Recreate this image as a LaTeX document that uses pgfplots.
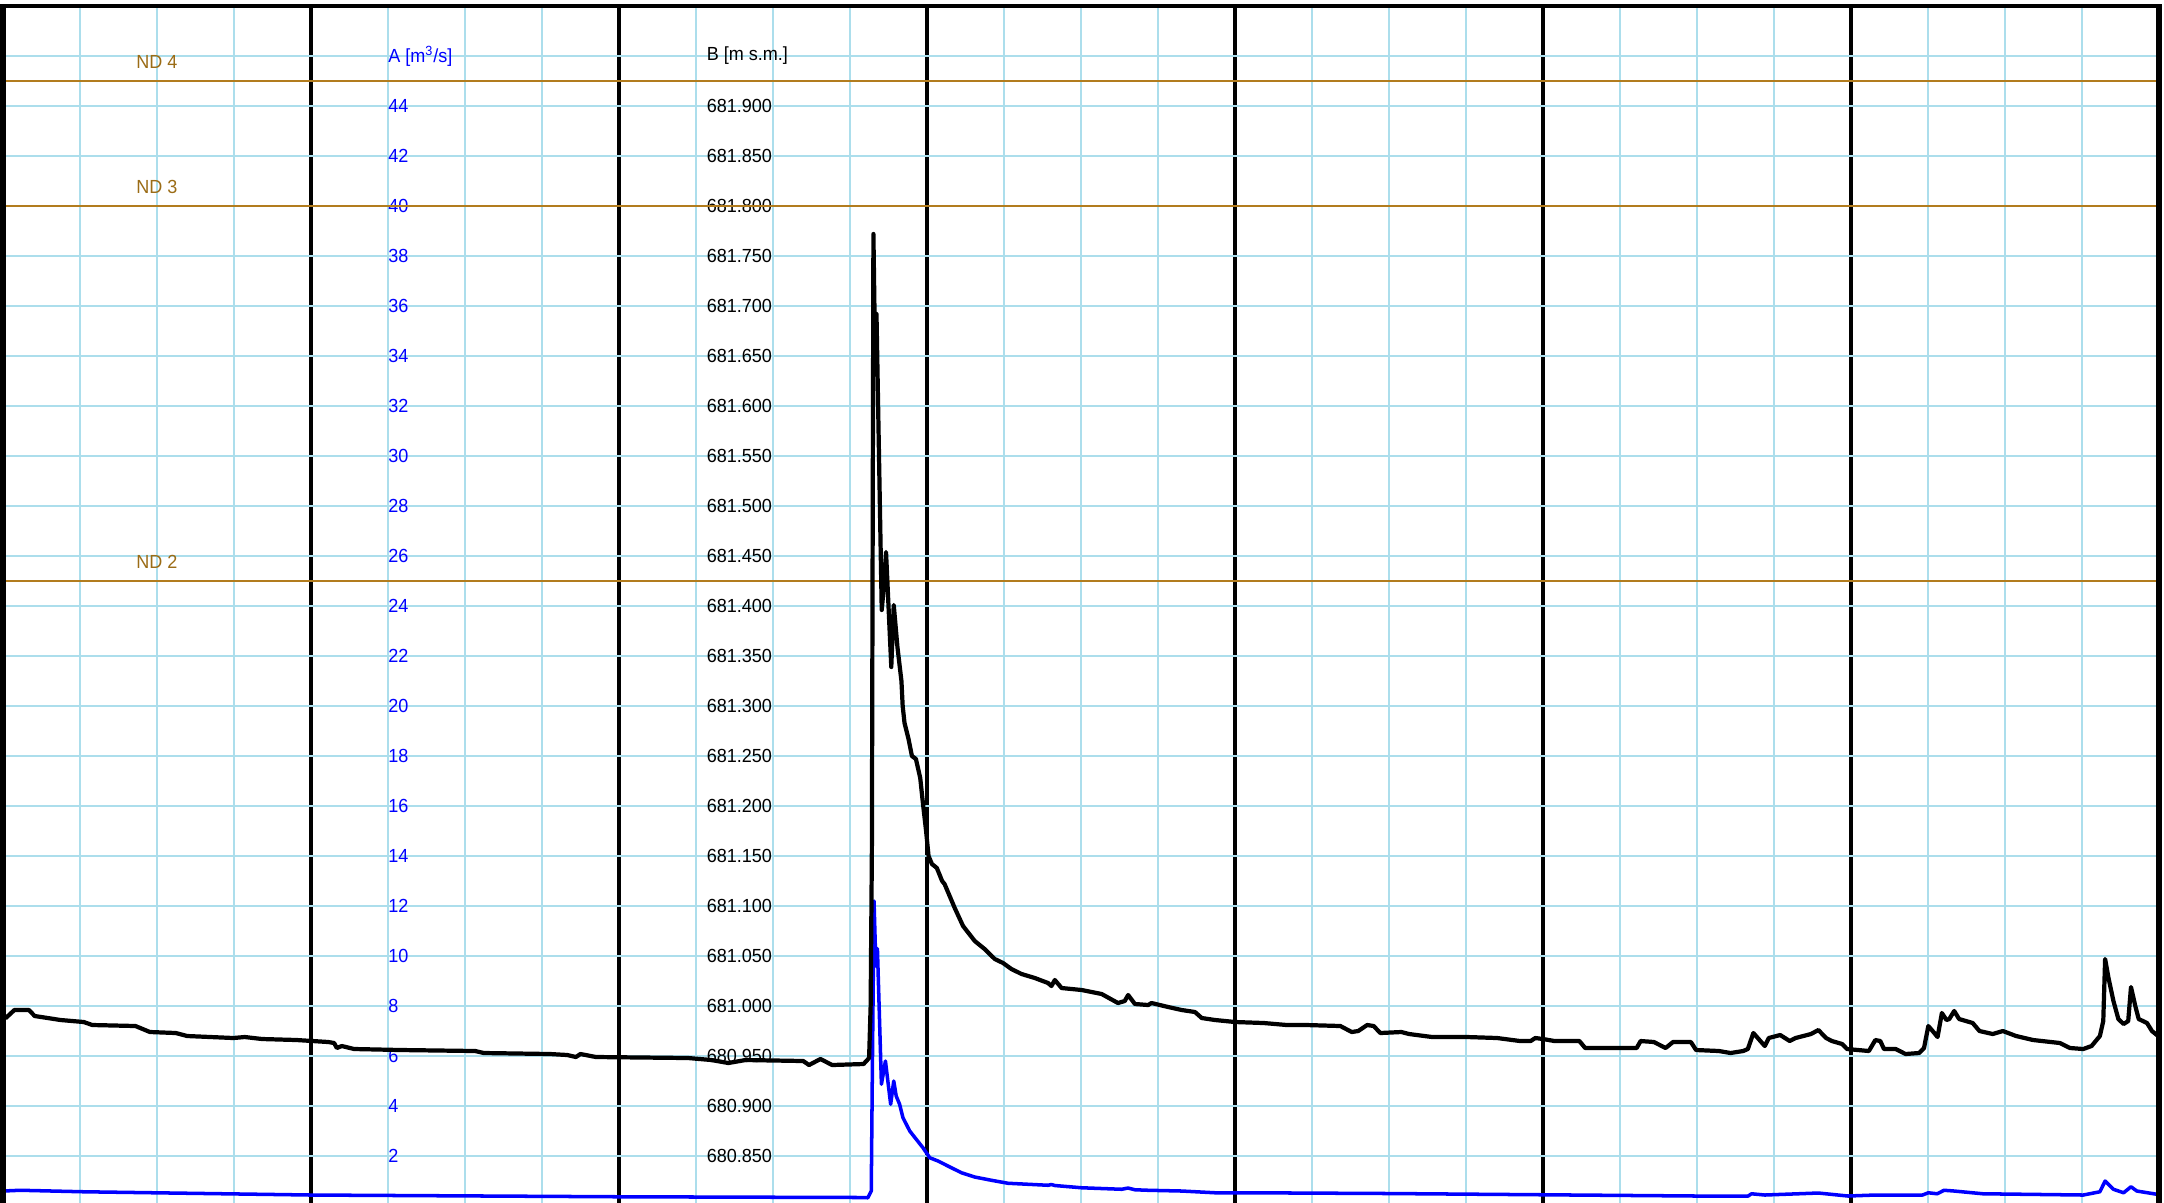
\documentclass[border=0pt]{standalone}
\usepackage{fontspec}
\setmainfont{Liberation Sans}[FakeStretch=0.95]
\usepackage{pgfplots}
\pgfplotsset{compat=1.18}
\definecolor{gridblue}{RGB}{172,222,236}
\definecolor{ndbrown}{RGB}{178,124,30}
\definecolor{ndtext}{RGB}{155,108,22}
\definecolor{qblue}{RGB}{0,0,255}
\newcommand{\lbl}{\fontsize{10.8}{13}\selectfont}

\begin{document}
\begin{tikzpicture}
% axis 1: discharge A [m3/s], carries the grid and the labels
\begin{axis}[
    name=ax,
    scale only axis,
    width=43.12cm, height=24cm,
    xmin=0, xmax=7, ymin=0, ymax=48,
    xtick={0,...,7},
    minor xtick={0.25,0.5,...,7},
    ytick={2,4,...,46},
    xticklabels={}, yticklabels={},
    major tick length=0pt, minor tick length=0pt,
    axis line style={draw=none},
    grid=both,
    minor x grid style={gridblue, line width=0.6pt},
    major x grid style={black, line width=2.1pt},
    major y grid style={gridblue, line width=1.1pt},
]
% A series
\addplot[qblue, line width=2pt, line join=round] coordinates {
(0,0.6) (0.056,0.63) (0.262,0.57) (1,0.44) (2,0.37) (2.794,0.34) (2.808,0.33)
(2.819,0.6) (2.823,6.0) (2.828,12.2) (2.834,9.6) (2.839,10.3) (2.852,4.87)
(2.865,5.8) (2.882,4.07) (2.892,5.0) (2.900,4.4) (2.911,4.07) (2.922,3.53)
(2.944,3.0) (2.965,2.67) (2.987,2.33) (3.009,1.93) (3.036,1.8) (3.068,1.6)
(3.112,1.33) (3.155,1.16) (3.209,1.03) (3.263,0.91) (3.393,0.83) (3.404,0.86)
(3.415,0.82) (3.502,0.73) (3.632,0.67) (3.653,0.72) (3.675,0.65) (3.718,0.63)
(3.827,0.6) (3.935,0.53) (4.043,0.53) (4.5,0.5) (5.0,0.45) (5.5,0.4)
(5.666,0.4) (5.677,0.49) (5.72,0.44) (5.894,0.52) (5.99,0.4) (6.079,0.44)
(6.232,0.44) (6.251,0.53) (6.28,0.49) (6.302,0.63) (6.335,0.6) (6.428,0.49)
(6.754,0.44) (6.808,0.57) (6.825,1.0) (6.852,0.67) (6.885,0.53) (6.909,0.77)
(6.928,0.6) (6.993,0.47) (7.0,0.47)
};

% scale labels inside the plot
\pgfplotsinvokeforeach{2,4,...,44}{
  \node[anchor=west, inner sep=0pt, text=qblue, font=\lbl] at (axis cs:1.25,#1) {#1};
  \node[anchor=west, inner sep=0pt, font=\lbl] at (axis cs:2.284,#1)
    {\pgfmathparse{680.8+0.025*#1}\pgfmathprintnumber[fixed,fixed zerofill,precision=3,assume math mode=true]{\pgfmathresult}};
}
\node[anchor=west, inner sep=0pt, text=qblue, font=\lbl] at (axis cs:1.25,46) {A [m\textsuperscript{3}/s]};
\node[anchor=west, inner sep=0pt, font=\lbl] at (axis cs:2.284,46) {B [m s.m.]};

\node[text=ndtext, font=\lbl, inner sep=0pt] at (axis cs:0.5,45.77) {ND 4};
\node[text=ndtext, font=\lbl, inner sep=0pt] at (axis cs:0.5,40.77) {ND 3};
\node[text=ndtext, font=\lbl, inner sep=0pt] at (axis cs:0.5,25.77) {ND 2};
\end{axis}

% axis 2: level B [m s.m.]
\begin{axis}[
    scale only axis,
    width=43.12cm, height=24cm,
    xmin=0, xmax=7, ymin=680.8, ymax=682.0,
    hide axis,
]
% ND levels
\addplot[ndbrown, line width=1.1pt] coordinates {(0,681.925) (7,681.925)};
\addplot[ndbrown, line width=1.1pt] coordinates {(0,681.800) (7,681.800)};
\addplot[ndbrown, line width=1.1pt] coordinates {(0,681.425) (7,681.425)};

% B series
\addplot[black, line width=2.4pt, line join=round] coordinates {
(0,680.990) (0.009,680.988) (0.037,680.996) (0.084,680.996) (0.103,680.990)
(0.187,680.986) (0.262,680.984) (0.290,680.981) (0.430,680.980) (0.477,680.974)
(0.561,680.973) (0.598,680.970) (0.748,680.968) (0.785,680.969) (0.841,680.967)
(0.953,680.966) (1.056,680.964) (1.075,680.963) (1.084,680.958) (1.10,680.960)
(1.140,680.957) (1.290,680.956) (1.533,680.955) (1.561,680.953) (1.776,680.952)
(1.832,680.951) (1.86,680.949) (1.875,680.952) (1.925,680.949) (2.224,680.948)
(2.30,680.946) (2.355,680.943) (2.411,680.946) (2.598,680.945) (2.617,680.941)
(2.654,680.947) (2.692,680.941) (2.794,680.942) (2.812,680.948) (2.817,681.000)
(2.821,681.155) (2.826,681.772) (2.832,681.640) (2.836,681.692) (2.853,681.396)
(2.860,681.420) (2.867,681.454) (2.884,681.339) (2.892,681.401) (2.904,681.359)
(2.917,681.325) (2.921,681.300) (2.927,681.283) (2.940,681.267) (2.951,681.250)
(2.964,681.247) (2.978,681.228) (2.987,681.202) (2.997,681.175) (3.005,681.150)
(3.016,681.142) (3.032,681.138) (3.049,681.125) (3.057,681.122) (3.09,681.098)
(3.117,681.080) (3.155,681.065) (3.187,681.057) (3.22,681.047) (3.247,681.043)
(3.274,681.037) (3.307,681.032) (3.35,681.028) (3.393,681.023) (3.404,681.020)
(3.415,681.026) (3.437,681.018) (3.502,681.016) (3.567,681.012) (3.62,681.003)
(3.642,681.005) (3.653,681.011) (3.675,681.002) (3.718,681.001) (3.729,681.003)
(3.783,680.999) (3.827,680.996) (3.87,680.994) (3.892,680.988) (3.935,680.986)
(4.0,680.984) (4.093,680.983) (4.168,680.981) (4.23,680.981) (4.342,680.980)
(4.379,680.974) (4.40,680.975) (4.429,680.981) (4.45,680.980) (4.472,680.973)
(4.54,680.974) (4.565,680.972) (4.64,680.969) (4.752,680.969) (4.851,680.968)
(4.925,680.965) (4.96,680.965) (4.975,680.968) (5.0,680.967) (5.037,680.965)
(5.118,680.965) (5.137,680.958) (5.224,680.958) (5.304,680.958) (5.317,680.965)
(5.36,680.964) (5.398,680.958) (5.422,680.964) (5.48,680.964) (5.497,680.956)
(5.571,680.955) (5.609,680.953) (5.65,680.955) (5.665,680.957) (5.683,680.973)
(5.72,680.960) (5.733,680.968) (5.77,680.971) (5.801,680.965) (5.82,680.968)
(5.87,680.972) (5.894,680.976) (5.919,680.968) (5.938,680.965) (5.971,680.962)
(5.987,680.957) (6.058,680.955) (6.079,680.966) (6.095,680.965) (6.107,680.957)
(6.145,680.957) (6.177,680.952) (6.221,680.953) (6.237,680.958) (6.251,680.980)
(6.265,680.975) (6.281,680.969) (6.295,680.993) (6.310,680.986) (6.319,680.987)
(6.335,680.995) (6.351,680.987) (6.395,680.983) (6.417,680.975) (6.46,680.972)
(6.493,680.975) (6.536,680.970) (6.591,680.966) (6.678,680.963) (6.711,680.958)
(6.754,680.957) (6.781,680.960) (6.808,680.970) (6.819,680.985) (6.825,681.047)
(6.836,681.028) (6.852,681.005) (6.868,680.987) (6.885,680.982) (6.900,680.985)
(6.909,681.019) (6.923,681.000) (6.934,680.987) (6.961,680.983) (6.977,680.975)
(6.993,680.971) (7.0,680.970)
};
\end{axis}

% frame: left, top, right (the bottom lies below the visible area)
\draw[line width=3.4pt] (ax.south west) -- (ax.north west);
\draw[line width=2.3pt] ([xshift=-1.7pt]ax.north west) -- ([xshift=1.7pt]ax.north east);
\draw[line width=3.4pt] (ax.north east) -- (ax.south east);

\pgfresetboundingbox
\path[use as bounding box] ([xshift=-0.06cm,yshift=0.08cm]ax.south west)
    rectangle ([xshift=0.10cm,yshift=0.12cm]ax.north east);
\end{tikzpicture}
\end{document}
